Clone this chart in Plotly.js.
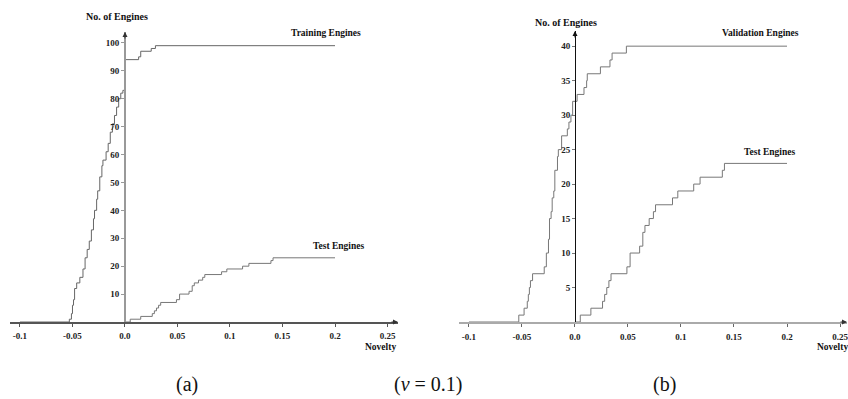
<!DOCTYPE html>
<html>
<head>
<meta charset="utf-8">
<script src="https://cdn.plot.ly/plotly-3.0.1.min.js"></script>
<style>html,body{margin:0;padding:0;background:#fff;}#chart{width:848px;height:399px;}</style>
</head>
<body>
<div id="chart"></div>
<script>
// Panel (a): training engines (cumulative count vs novelty)
const trainX = [-0.1, -0.053, -0.051, -0.050, -0.049, -0.048, -0.046, -0.043, -0.040, -0.038, -0.036, -0.034, -0.032, -0.030, -0.029, -0.027, -0.026, -0.024, -0.022, -0.021, -0.018, -0.016, -0.014, -0.012, -0.010, -0.008, -0.006, -0.004, -0.002, 0.0, 0.013, 0.015, 0.025, 0.029, 0.2];
const trainY = [0, 1, 3, 6, 8, 12, 14, 16, 19, 23, 26, 29, 33, 37, 40, 44, 47, 52, 56, 58, 61, 64, 68, 71, 74, 77, 80, 82, 83, 94, 95, 97, 98, 99, 99];

// Test engines (same set in both panels)
const testX = [0.0, 0.005, 0.015, 0.026, 0.028, 0.030, 0.032, 0.034, 0.049, 0.052, 0.061, 0.064, 0.066, 0.070, 0.074, 0.076, 0.092, 0.097, 0.112, 0.118, 0.139, 0.141, 0.2];
const testY = [0, 1, 2, 3, 4, 5, 6, 7, 8, 10, 11, 13, 14, 15, 16, 17, 18, 19, 20, 21, 22, 23, 23];

// Panel (b): validation engines
const valX = [-0.1, -0.053, -0.048, -0.045, -0.044, -0.043, -0.042, -0.040, -0.029, -0.027, -0.025, -0.024, -0.0225, -0.0215, -0.020, -0.019, -0.0165, -0.0157, -0.0126, -0.0072, -0.0057, -0.0038, -0.0022, 0.002, 0.0085, 0.011, 0.0116, 0.024, 0.033, 0.035, 0.0485, 0.2];
const valY = [0, 1, 2, 3, 4, 5, 6, 7, 8, 10, 12, 15, 16, 18, 19, 22, 24, 25, 27, 28, 29, 30, 32, 33, 34, 35, 36, 37, 38, 39, 40, 40];

const xTickVals = [-0.1, -0.05, 0.0, 0.05, 0.1, 0.15, 0.2, 0.25];
const xTickTextA = ['-0.1', '-0.05', '0.0', '0.05', '0.1', '0.15', '0.2', '0.25'];
const xTickTextB = ['-0.1', '-0.05', '0.0', '0.05', '0.1', '0.15', '0.2', '0.25'];
const yTickValsA = [10, 20, 30, 40, 50, 60, 70, 80, 90, 100];
const yTickValsB = [5, 10, 15, 20, 25, 30, 35, 40];

const W = 848, H = 399;
const px = v => v / W;
const py = v => 1 - v / H;
const serif = 'Liberation Serif';
const tickFont = {family: serif, size: 9, color: '#222', weight: 'bold'};

const traces = [
  {x: trainX, y: trainY, xaxis: 'x', yaxis: 'y', mode: 'lines', line: {shape: 'hv', color: '#666', width: 1}, hoverinfo: 'skip'},
  {x: testX, y: testY, xaxis: 'x', yaxis: 'y', mode: 'lines', line: {shape: 'hv', color: '#777', width: 1}, hoverinfo: 'skip'},
  {x: valX, y: valY, xaxis: 'x2', yaxis: 'y2', mode: 'lines', line: {shape: 'hv', color: '#777', width: 1}, hoverinfo: 'skip'},
  {x: testX, y: testY, xaxis: 'x2', yaxis: 'y2', mode: 'lines', line: {shape: 'hv', color: '#777', width: 1}, hoverinfo: 'skip'}
];

const xA0 = -0.1095, xA1 = 0.2600, yA1 = 103.9;
const xB0 = -0.1094, xB1 = 0.2566, yB1 = 42.2;

const layout = {
  width: W, height: H, autosize: false,
  margin: {l: 0, r: 0, t: 0, b: 0, pad: 0},
  paper_bgcolor: '#fff', plot_bgcolor: 'rgba(0,0,0,0)',
  showlegend: false,
  font: {family: serif},
  xaxis: {
    domain: [px(10), px(398)], range: [xA0, xA1], anchor: 'y',
    showgrid: false, zeroline: false, showline: true, linecolor: '#555', linewidth: 1.5,
    ticks: 'outside', ticklen: 3, tickcolor: '#555', tickwidth: 1,
    tickvals: xTickVals, ticktext: xTickTextA, tickfont: tickFont, ticklabelstandoff: 2,
    ticklabeloverflow: 'allow'
  },
  yaxis: {
    domain: [py(322), py(32)], range: [0, yA1], anchor: 'free', position: px(125),
    showgrid: false, zeroline: false, showline: true, linecolor: '#999', linewidth: 2,
    ticks: 'outside', ticklen: 3, tickcolor: '#999', tickwidth: 1,
    tickvals: yTickValsA, tickfont: tickFont
  },
  xaxis2: {
    domain: [px(459), px(847)], range: [xB0, xB1], anchor: 'y2',
    showgrid: false, zeroline: false, showline: true, linecolor: '#aaa', linewidth: 2,
    ticks: 'outside', ticklen: 3, tickcolor: '#666', tickwidth: 1,
    tickvals: xTickVals, ticktext: xTickTextB, tickfont: tickFont, ticklabelstandoff: 2,
    ticklabeloverflow: 'allow'
  },
  yaxis2: {
    domain: [py(322), py(31)], range: [0, yB1], anchor: 'free', position: px(575),
    showgrid: false, zeroline: false, showline: true, linecolor: '#111', linewidth: 1,
    ticks: 'outside', ticklen: 3, tickcolor: '#777', tickwidth: 1,
    tickvals: yTickValsB, tickfont: tickFont
  },
  annotations: [
    // axis arrows
    {xref: 'x', yref: 'y', x: 0, y: yA1, ax: 0, ay: 8, text: '', showarrow: true, arrowhead: 2, arrowsize: 1, arrowwidth: 1, arrowcolor: '#333'},
    {xref: 'x', yref: 'y', x: xA1, y: 0, ax: -8, ay: 0, text: '', showarrow: true, arrowhead: 2, arrowsize: 1, arrowwidth: 1, arrowcolor: '#333'},
    {xref: 'x2', yref: 'y2', x: 0, y: yB1, ax: 0, ay: 8, text: '', showarrow: true, arrowhead: 2, arrowsize: 1, arrowwidth: 1, arrowcolor: '#111'},
    {xref: 'x2', yref: 'y2', x: xB1, y: 0, ax: -8, ay: 0, text: '', showarrow: true, arrowhead: 2, arrowsize: 1, arrowwidth: 1, arrowcolor: '#333'},
    // axis labels
    {xref: 'paper', yref: 'paper', x: px(117), y: py(17), text: 'No. of Engines', showarrow: false, xanchor: 'center', yanchor: 'middle', font: {family: serif, size: 10, color: '#111', weight: 'bold'}},
    {xref: 'paper', yref: 'paper', x: px(566), y: py(22), text: 'No. of Engines', showarrow: false, xanchor: 'center', yanchor: 'middle', font: {family: serif, size: 10, color: '#111', weight: 'bold'}},
    {xref: 'paper', yref: 'paper', x: px(380), y: py(347), text: 'Novelty', showarrow: false, xanchor: 'center', yanchor: 'middle', font: {family: serif, size: 9.5, color: '#111', weight: 'bold'}},
    {xref: 'paper', yref: 'paper', x: px(832), y: py(347), text: 'Novelty', showarrow: false, xanchor: 'center', yanchor: 'middle', font: {family: serif, size: 9.5, color: '#111', weight: 'bold'}},
    // curve labels
    {xref: 'paper', yref: 'paper', x: px(326), y: py(33), text: 'Training Engines', showarrow: false, xanchor: 'center', yanchor: 'middle', font: {family: serif, size: 9.5, color: '#111', weight: 'bold'}},
    {xref: 'paper', yref: 'paper', x: px(338), y: py(246), text: 'Test Engines', showarrow: false, xanchor: 'center', yanchor: 'middle', font: {family: serif, size: 9.5, color: '#111', weight: 'bold'}},
    {xref: 'paper', yref: 'paper', x: px(760), y: py(33), text: 'Validation Engines', showarrow: false, xanchor: 'center', yanchor: 'middle', font: {family: serif, size: 9.5, color: '#111', weight: 'bold'}},
    {xref: 'paper', yref: 'paper', x: px(769), y: py(152), text: 'Test Engines', showarrow: false, xanchor: 'center', yanchor: 'middle', font: {family: serif, size: 9.5, color: '#111', weight: 'bold'}},
    // captions
    {xref: 'paper', yref: 'paper', x: px(187), y: py(384), text: '(a)', showarrow: false, xanchor: 'center', yanchor: 'middle', font: {family: serif, size: 20, color: '#111'}},
    {xref: 'paper', yref: 'paper', x: px(428), y: py(384), text: '(<i>ν</i> = 0.1)', showarrow: false, xanchor: 'center', yanchor: 'middle', font: {family: serif, size: 20, color: '#111'}},
    {xref: 'paper', yref: 'paper', x: px(664), y: py(384), text: '(b)', showarrow: false, xanchor: 'center', yanchor: 'middle', font: {family: serif, size: 20, color: '#111'}}
  ]
};

Plotly.newPlot('chart', traces, layout, {staticPlot: true, displayModeBar: false});
</script>
</body>
</html>
